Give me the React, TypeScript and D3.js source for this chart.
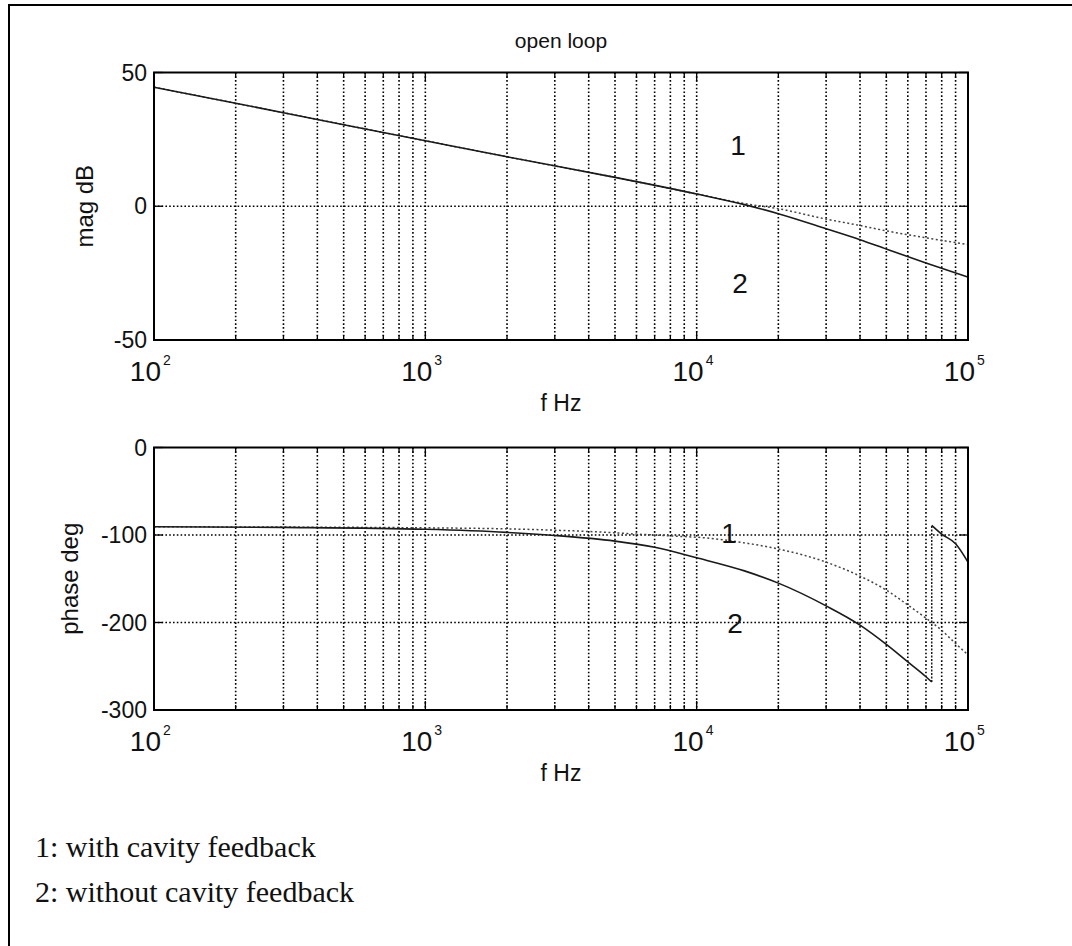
import React from 'react';
import * as d3 from 'd3';

// ---------- data ----------
const magFreq = [100, 200, 500, 1000, 2000, 5000, 10000, 15000, 20000, 30000, 40000, 50000, 70000, 100000];
const mag1 = [44.5, 38.5, 30.5, 24.5, 18.5, 10.8, 4.6, 1.0, -0.9, -4.8, -7.2, -9.2, -11.8, -14.3];
const mag2 = [44.5, 38.5, 30.5, 24.5, 18.5, 10.8, 4.6, 0.6, -2.8, -8.4, -12.5, -16.0, -21.2, -26.5];

const phaseFreq = [100, 200, 500, 1000, 2000, 3000, 4000, 5000, 6000, 7000, 8000, 9000, 10000, 15000, 20000, 30000, 40000, 50000, 60000, 70000, 80000, 90000, 100000];
const phase1 = [-90.5, -90.8, -91.2, -91.8, -93, -94.5, -96, -97.5, -99, -100, -101, -101.8, -102.5, -109, -116, -131, -147, -163, -180, -195, -209, -224, -237];

const phase2Freq = [100, 300, 1000, 2000, 3000, 5000, 7000, 10000, 15000, 20000, 30000, 40000, 50000, 60000, 70000, 73500];
const phase2 = [-90.5, -91.3, -93.5, -97, -100.5, -107, -114, -126, -141, -155, -181, -203, -225, -245, -262, -268];
const phase2WrapFreq = [73500, 80000, 90000, 100000];
const phase2Wrap = [-89, -99, -110, -131];

const magTicks = [-50, 0, 50];
const phaseTicks = [-300, -200, -100, 0];
const decadeExps = [2, 3, 4, 5];
const titleText = 'open loop';
const xLabelText = 'f Hz';
const legendLines = ['1: with cavity feedback', '2: without cavity feedback'];

// ---------- layout ----------
const W = 1072;
const H = 946;
const X0 = 154;
const X1 = 968;
const SANS = '"Liberation Sans", Arial, Helvetica, sans-serif';
const SERIF = '"Liberation Serif", "Times New Roman", serif';

const x = d3.scaleLog().domain([100, 100000]).range([X0, X1]);

const gridFreqs: number[] = [];
[100, 1000, 10000].forEach((d) => {
  for (let k = 1; k <= 9; k++) gridFreqs.push(k * d);
});
gridFreqs.push(100000);

type Series = { f: number[]; v: number[]; dash?: string; color: string; width: number };

function Panel(props: {
  yTop: number;
  yBot: number;
  domain: [number, number];
  ticks: number[];
  ylabel: string;
  ylabelX: number;
  series: Series[];
  jump?: [number, number, number];
  labels: { t: string; x: number; y: number }[];
}) {
  const { yTop, yBot, domain, ticks, ylabel, ylabelX, series, labels, jump } = props;
  const y = d3.scaleLinear().domain(domain).range([yBot, yTop]);
  const line = d3
    .line<[number, number]>()
    .x((d) => x(d[0]))
    .y((d) => y(d[1]))
    .curve(d3.curveMonotoneX);
  const isMajor = (f: number) => Math.abs(Math.log10(f) - Math.round(Math.log10(f))) < 1e-9;
  return (
    <g>
      {/* vertical grid */}
      {gridFreqs
        .filter((f) => f > 100 && f < 100000)
        .map((f) => (
          <line key={'gv' + f} x1={x(f)} x2={x(f)} y1={yTop} y2={yBot} stroke="#000" strokeWidth={1.6} strokeDasharray="1.6,2.2" />
        ))}
      {/* horizontal grid */}
      {ticks
        .filter((t) => t > domain[0] && t < domain[1])
        .map((t) => (
          <line key={'gh' + t} x1={X0} x2={X1} y1={y(t)} y2={y(t)} stroke="#000" strokeWidth={1.6} strokeDasharray="1.6,2.2" />
        ))}
      {/* x ticks */}
      {gridFreqs.map((f) => {
        const L = isMajor(f) ? 9 : 5;
        return (
          <g key={'xt' + f}>
            <line x1={x(f)} x2={x(f)} y1={yBot} y2={yBot - L} stroke="#000" strokeWidth={1.3} />
            <line x1={x(f)} x2={x(f)} y1={yTop} y2={yTop + L} stroke="#000" strokeWidth={1.3} />
          </g>
        );
      })}
      {/* y ticks */}
      {ticks.map((t) => (
        <g key={'yt' + t}>
          <line x1={X0} x2={X0 + 9} y1={y(t)} y2={y(t)} stroke="#000" strokeWidth={1.3} />
          <line x1={X1} x2={X1 - 9} y1={y(t)} y2={y(t)} stroke="#000" strokeWidth={1.3} />
          <text x={147} y={y(t) + 8} textAnchor="end" fontFamily={SANS} fontSize={23} fill="#111">
            {t}
          </text>
        </g>
      ))}
      {/* curves */}
      {series.map((s, i) => (
        <path
          key={'s' + i}
          d={line(s.f.map((f, j) => [f, s.v[j]] as [number, number])) || ''}
          fill="none"
          stroke={s.color}
          strokeWidth={s.width}
          strokeDasharray={s.dash}
        />
      ))}
      {jump && (
        <line x1={x(jump[0])} x2={x(jump[0])} y1={y(jump[1])} y2={y(jump[2])} stroke="#1a1a1a" strokeWidth={1.5} strokeDasharray="2,1.5" />
      )}
      {/* box */}
      <rect x={X0} y={yTop} width={X1 - X0} height={yBot - yTop} fill="none" stroke="#000" strokeWidth={2} />
      {/* x tick labels */}
      {decadeExps.map((e) => {
        const px = x(Math.pow(10, e));
        return (
          <g key={'xl' + e} fontFamily={SANS} fill="#111">
            <text x={px + 7} y={yBot + 41} textAnchor="end" fontSize={28}>
              10
            </text>
            <text x={px + 9} y={yBot + 25} textAnchor="start" fontSize={14}>
              {e}
            </text>
          </g>
        );
      })}
      <text x={(X0 + X1) / 2} y={yBot + 71} textAnchor="middle" fontFamily={SANS} fontSize={23} fill="#111">
        {xLabelText}
      </text>
      <text
        transform={`translate(${ylabelX},${(yTop + yBot) / 2}) rotate(-90)`}
        textAnchor="middle"
        fontFamily={SANS}
        fontSize={24}
        fill="#111"
      >
        {ylabel}
      </text>
      {labels.map((l, i) => (
        <text key={'lb' + i} x={l.x} y={l.y} textAnchor="middle" fontFamily={SANS} fontSize={28} fill="#111">
          {l.t}
        </text>
      ))}
    </g>
  );
}

export default function App() {
  return (
    <svg
      width={W}
      height={H}
      viewBox={`0 0 ${W} ${H}`}
      style={{ position: 'absolute', left: 0, top: 0, background: '#fff' }}
    >
      <rect x={0} y={0} width={W} height={H} fill="#fff" />
      <rect x={9} y={5} width={W + 50} height={H + 50} fill="none" stroke="#000" strokeWidth={2} />
      <text x={(X0 + X1) / 2} y={48} textAnchor="middle" fontFamily={SANS} fontSize={21} fill="#111">
        {titleText}
      </text>
      <Panel
        yTop={72.5}
        yBot={340}
        domain={[-50, 50]}
        ticks={magTicks}
        ylabel="mag dB"
        ylabelX={93}
        series={[
          { f: magFreq, v: mag1, color: '#444', width: 1.5, dash: '2,2.5' },
          { f: magFreq, v: mag2, color: '#1a1a1a', width: 1.6 },
        ]}
        labels={[
          { t: '1', x: 738, y: 155 },
          { t: '2', x: 740, y: 293 },
        ]}
      />
      <Panel
        yTop={447.5}
        yBot={710}
        domain={[-300, 0]}
        ticks={phaseTicks}
        ylabel="phase deg"
        ylabelX={78}
        series={[
          { f: phaseFreq, v: phase1, color: '#444', width: 1.5, dash: '2,2.5' },
          { f: phase2Freq, v: phase2, color: '#1a1a1a', width: 1.6 },
          { f: phase2WrapFreq, v: phase2Wrap, color: '#1a1a1a', width: 1.6 },
        ]}
        jump={[73500, phase2[phase2.length - 1], phase2Wrap[0]]}
        labels={[
          { t: '1', x: 729, y: 543 },
          { t: '2', x: 735, y: 633 },
        ]}
      />
      {legendLines.map((t, i) => (
        <text key={'lg' + i} x={35} y={857 + i * 45} fontFamily={SERIF} fontSize={30} fill="#111">
          {t}
        </text>
      ))}
    </svg>
  );
}
